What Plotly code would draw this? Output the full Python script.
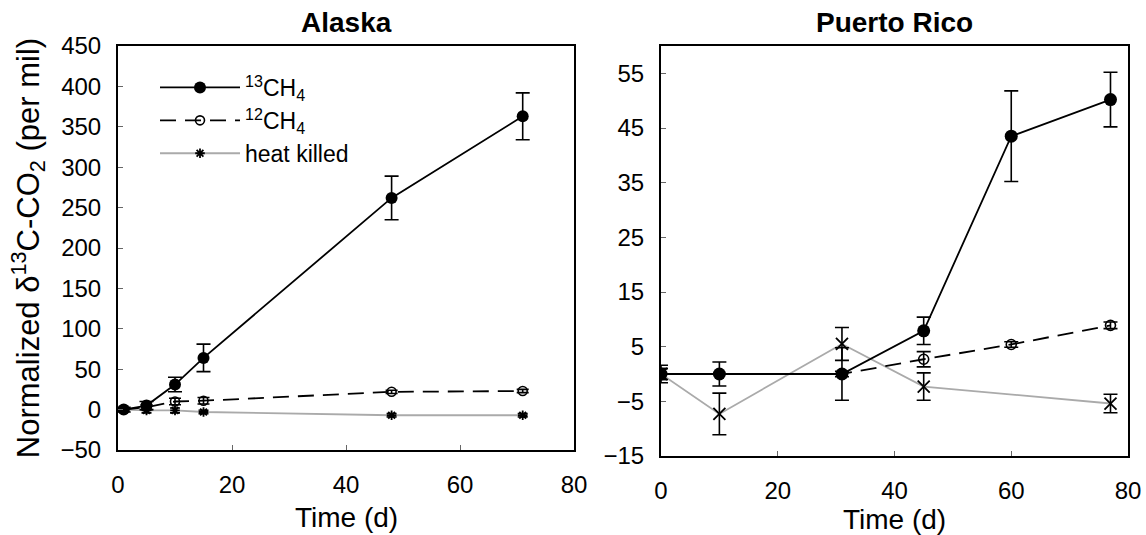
import plotly.graph_objects as go

# ---------------- Data ----------------
# Alaska
ak_13_x = [1, 5, 10, 15, 48, 71]
ak_13_y = [0, 5, 31, 64, 262, 363]
ak_13_e = [3, 5, 9, 17, 27, 29]

ak_12_x = [1, 5, 10, 15, 48, 71]
ak_12_y = [0, 3, 10, 11, 22, 23]
ak_12_e = [2, 3, 4, 4, 2, 2]

ak_hk_x = [1, 5, 10, 15, 48, 71]
ak_hk_y = [0, -1, -1, -3, -7, -7]
ak_hk_e = [2, 3, 3, 2, 2, 2]

# Puerto Rico
pr_13_x = [0, 10, 31, 45, 60, 77]
pr_13_y = [0, 0, 0, 7.9, 43.5, 50.2]
pr_13_e = [1.6, 2.2, 4.8, 2.5, 8.3, 5.0]

pr_12_x = [0, 31, 45, 60, 77]
pr_12_y = [0, 0, 2.7, 5.4, 8.9]
pr_12_e = [1.0, 0.5, 1.4, 0.5, 0.6]

pr_hk_x = [0, 10, 31, 45, 77]
pr_hk_y = [0, -7.3, 5.5, -2.3, -5.4]
pr_hk_e = [1.0, 3.8, 3.0, 2.5, 1.7]

x_ticks = [0, 20, 40, 60, 80]
ak_y_ticks = list(range(-50, 451, 50))
pr_y_ticks = [-15, -5, 5, 15, 25, 35, 45, 55]

FONT = "Arial, Liberation Sans, sans-serif"
GRAY = "#aaaaaa"
DASH = "16px,9px"

fig = go.Figure()

def err(vals, w=7):
    return dict(type="data", array=vals, visible=True, color="black", thickness=1.6, width=w)

# Alaska traces
fig.add_trace(go.Scatter(x=ak_hk_x, y=ak_hk_y, mode="lines+markers", name="heat killed",
                         line=dict(color=GRAY, width=1.8),
                         marker=dict(symbol="asterisk-open", size=8, color="black",
                                     line=dict(color="black", width=1.8)),
                         error_y=err(ak_hk_e, 5), xaxis="x", yaxis="y", showlegend=True,
                         legendrank=3))
fig.add_trace(go.Scatter(x=ak_12_x, y=ak_12_y, mode="lines+markers", name="<sup>12</sup>CH<sub>4</sub>",
                         line=dict(color="black", width=1.8, dash=DASH),
                         marker=dict(symbol="circle-open", size=9, color="black",
                                     line=dict(color="black", width=1.6)),
                         error_y=err(ak_12_e, 6), xaxis="x", yaxis="y", legendrank=2))
fig.add_trace(go.Scatter(x=ak_13_x, y=ak_13_y, mode="lines+markers", name="<sup>13</sup>CH<sub>4</sub>",
                         line=dict(color="black", width=1.8),
                         marker=dict(symbol="circle", size=12, color="black"),
                         error_y=err(ak_13_e, 7), xaxis="x", yaxis="y", legendrank=1))

# Puerto Rico traces
fig.add_trace(go.Scatter(x=pr_hk_x, y=pr_hk_y, mode="lines+markers", name="heat killed",
                         line=dict(color=GRAY, width=1.8),
                         marker=dict(symbol="x-thin-open", size=12, color="black",
                                     line=dict(color="black", width=1.8)),
                         error_y=err(pr_hk_e, 7), xaxis="x2", yaxis="y2", showlegend=False))
fig.add_trace(go.Scatter(x=pr_12_x, y=pr_12_y, mode="lines+markers", name="12CH4",
                         line=dict(color="black", width=1.8, dash=DASH),
                         marker=dict(symbol="circle-open", size=10, color="black",
                                     line=dict(color="black", width=1.6)),
                         error_y=err(pr_12_e, 7), xaxis="x2", yaxis="y2", showlegend=False))
fig.add_trace(go.Scatter(x=pr_13_x, y=pr_13_y, mode="lines+markers", name="13CH4",
                         line=dict(color="black", width=1.8),
                         marker=dict(symbol="circle", size=13, color="black"),
                         error_y=err(pr_13_e, 7), xaxis="x2", yaxis="y2", showlegend=False))

W, H = 1146, 535
ax_common = dict(showline=True, linecolor="black", linewidth=2, mirror=True, showgrid=False,
                 zeroline=False, ticks="inside", ticklen=5, tickcolor="#666666", tickwidth=1,
                 automargin=False,
                 tickfont=dict(family=FONT, size=24, color="black"))

fig.update_layout(
    width=W, height=H, autosize=False,
    margin=dict(l=0, r=0, t=0, b=0, pad=0, autoexpand=False),
    paper_bgcolor="white", plot_bgcolor="white",
    font=dict(family=FONT, color="black"),
    xaxis=dict(domain=[118 / W, 574 / W], range=[0, 80], tickvals=x_ticks, anchor="y",
               ticklabelstandoff=12, **ax_common),
    yaxis=dict(domain=[1 - 450 / H, 1 - 46 / H], range=[-50, 450], tickvals=ak_y_ticks, anchor="x",
               title=dict(text="Normalized δ<sup>13</sup>C-CO<sub>2</sub> (per mil)",
                          font=dict(size=31), standoff=12),
               ticklabelstandoff=10, **ax_common),
    xaxis2=dict(domain=[661 / W, 1128 / W], range=[0, 80], tickvals=x_ticks, anchor="y2",
                ticklabelstandoff=12, **ax_common),
    yaxis2=dict(domain=[1 - 456 / H, 1 - 46 / H], range=[-15, 60], tickvals=pr_y_ticks, anchor="x2",
                ticklabelstandoff=10, **ax_common),
    legend=dict(x=155 / W, y=1 - 66 / H, xanchor="left", yanchor="top",
                bgcolor="rgba(0,0,0,0)", font=dict(family=FONT, size=23),
                traceorder="normal", itemwidth=80, tracegroupgap=0),
    annotations=[
        dict(text="<b>Alaska</b>", x=(118 + 574) / 2 / W, y=1 - 22 / H, xref="paper", yref="paper",
             showarrow=False, font=dict(family=FONT, size=28), xanchor="center", yanchor="middle"),
        dict(text="<b>Puerto Rico</b>", x=(661 + 1128) / 2 / W, y=1 - 22 / H, xref="paper", yref="paper",
             showarrow=False, font=dict(family=FONT, size=28), xanchor="center", yanchor="middle"),
        dict(text="Time (d)", x=(118 + 574) / 2 / W, y=1 - 517 / H, xref="paper", yref="paper",
             showarrow=False, font=dict(family=FONT, size=28), xanchor="center", yanchor="middle"),
        dict(text="Time (d)", x=(661 + 1128) / 2 / W, y=1 - 519 / H, xref="paper", yref="paper",
             showarrow=False, font=dict(family=FONT, size=28), xanchor="center", yanchor="middle"),
    ],
)

fig.write_html("out.html")
